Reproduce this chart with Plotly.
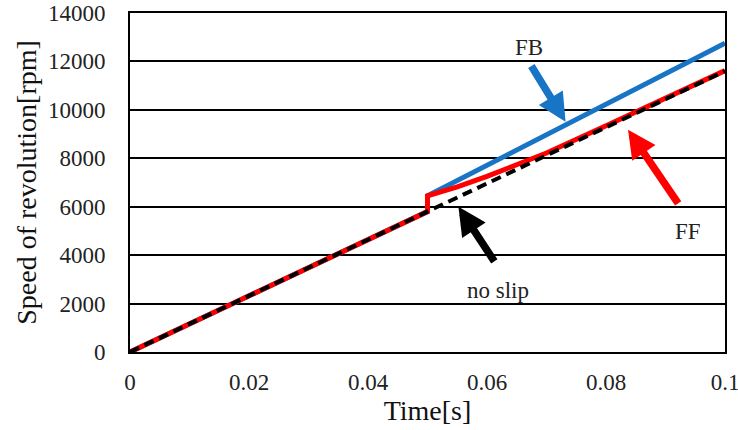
import plotly.graph_objects as go

# ---- data ----
t_noslip = [0, 0.05, 0.1]
speed_noslip = [0, 5800, 11600]

t_fb = [0, 0.05, 0.05, 0.1]
speed_fb = [0, 5800, 6450, 12750]

t_ff = [0, 0.05, 0.05, 0.052, 0.055, 0.06, 0.065, 0.07, 0.08, 0.09, 0.1]
speed_ff = [0, 5800, 6450, 6580, 6820, 7250, 7720, 8220, 9340, 10470, 11620]

x_ticks = [0, 0.02, 0.04, 0.06, 0.08, 0.1]
x_tick_labels = ["0", "0.02", "0.04", "0.06", "0.08", "0.1"]
y_ticks = [0, 2000, 4000, 6000, 8000, 10000, 12000, 14000]
y_tick_labels = ["0", "2000", "4000", "6000", "8000", "10000", "12000", "14000"]

# label annotations: (text, x, y) and arrows: (tail x, tail y, head x, head y, colour)
labels = [("FB", 0.0670, 12570), ("FF", 0.0938, 4960), ("no slip", 0.0618, 2560)]
arrows = [
    (0.0673, 11870, 0.0732, 9510, "#1874C4"),
    (0.0923, 6080, 0.0837, 9180, "#FF0000"),
    (0.0614, 3680, 0.0552, 5997, "#000000"),
]

FONT = "Liberation Serif"

fig = go.Figure()
fig.add_trace(go.Scatter(x=t_fb, y=speed_fb, mode="lines", name="FB",
                         line=dict(color="#1874C4", width=5)))
fig.add_trace(go.Scatter(x=t_ff, y=speed_ff, mode="lines", name="FF",
                         line=dict(color="#FF0000", width=5)))
fig.add_trace(go.Scatter(x=t_noslip, y=speed_noslip, mode="lines", name="no slip",
                         line=dict(color="#000000", width=4, dash="10px,6px")))

annotations = []
for text, x, y in labels:
    annotations.append(dict(x=x, y=y, xref="x", yref="y", text=text, showarrow=False,
                            font=dict(family=FONT, size=23, color="#222222")))
for tx, ty, hx, hy, col in arrows:
    annotations.append(dict(x=hx, y=hy, ax=tx, ay=ty, xref="x", yref="y", axref="x", ayref="y",
                            text="", showarrow=True, arrowhead=2, arrowsize=0.75,
                            arrowwidth=7.5, arrowcolor=col, standoff=0))

fig.update_layout(
    width=738, height=430,
    margin=dict(l=130, r=13, t=13, b=78),
    paper_bgcolor="white", plot_bgcolor="white",
    showlegend=False,
    font=dict(family=FONT, color="#222222"),
    annotations=annotations,
)
fig.update_xaxes(range=[0, 0.1], tickvals=x_ticks, ticktext=x_tick_labels,
                 showgrid=False, zeroline=False, automargin=False,
                 showline=True, linecolor="black", linewidth=2, mirror=True,
                 ticks="", tickfont=dict(family=FONT, size=23, color="#222222"),
                 ticklabelstandoff=8, ticklabeloverflow="allow",
                 title=dict(text="Time[s]", font=dict(family=FONT, size=28, color="#111111"), standoff=0))
fig.update_yaxes(range=[0, 14000], tickvals=y_ticks, ticktext=y_tick_labels,
                 showgrid=True, gridcolor="black", gridwidth=1.8, zeroline=False, automargin=False,
                 showline=True, linecolor="black", linewidth=2, mirror=True,
                 ticks="", tickfont=dict(family=FONT, size=23, color="#222222"),
                 ticklabelstandoff=18, ticklabeloverflow="allow",
                 title=dict(text="Speed of revolution[rpm]", font=dict(family=FONT, size=28, color="#111111"), standoff=3))

# remove the default 8px page margin so the figure fills the 738x430 window exactly
fig.write_html("out.html", config={"displayModeBar": False},
               post_script="document.body.style.margin='0';document.body.style.overflow='hidden';")
